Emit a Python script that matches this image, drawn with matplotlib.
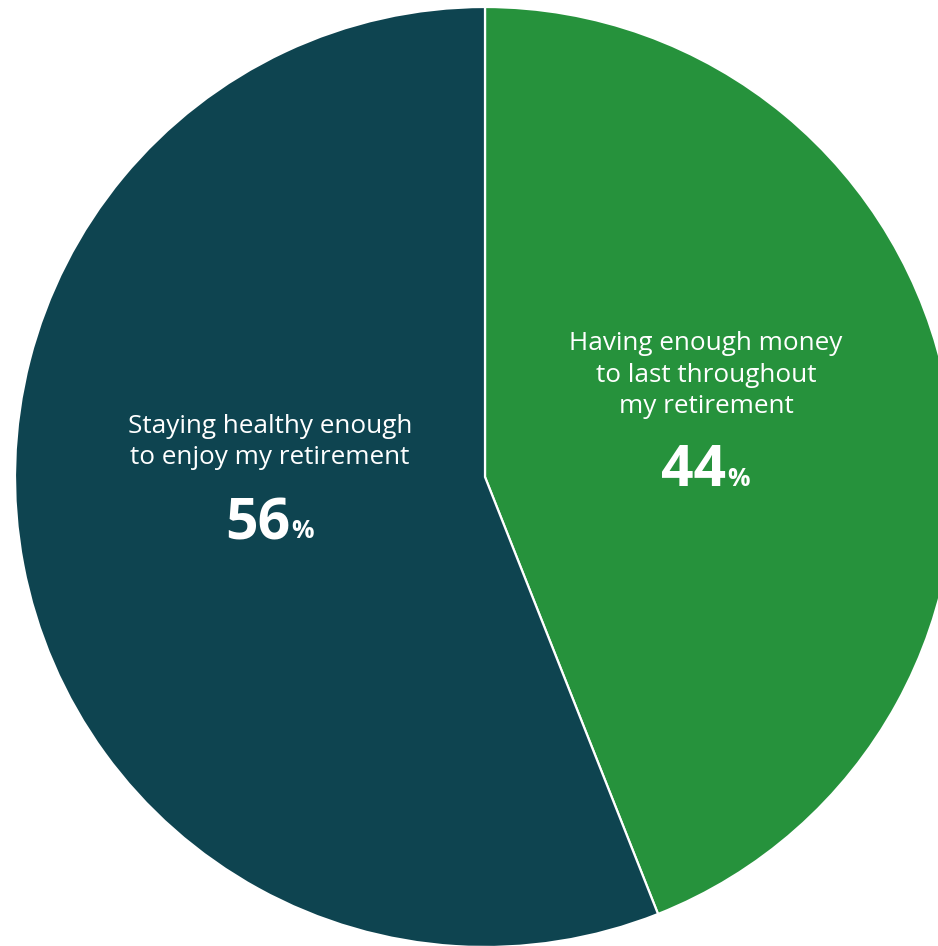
import matplotlib.pyplot as plt

# Survey shares: biggest retirement worry
labels = ["Having enough money\nto last throughout\nmy retirement",
          "Staying healthy enough\nto enjoy my retirement"]
shares = [44, 56]
colors = ["#26923c", "#0e4450"]

W, H = 938, 946
fig = plt.figure(figsize=(W / 100, H / 100), dpi=100)
ax = fig.add_axes([0, 0, 1, 1])

wedges, _ = ax.pie(shares, colors=colors, startangle=90, counterclock=False,
                   radius=470, center=(485, H - 477),
                   wedgeprops=dict(edgecolor="white", linewidth=1.6))
ax.set_xlim(0, W)
ax.set_ylim(0, H)
ax.set_aspect("equal")
ax.axis("off")

font = ["Open Sans", "DejaVu Sans"]
# label text, then big number + small percent sign
spots = [(706, 375, 471), (270, 442, 524)]
for lab, val, (x, ty, ny) in zip(labels, shares, spots):
    ax.text(x, H - ty, lab, ha="center", va="center", color="white",
            fontsize=18.8, family=font, linespacing=1.33)
    num = ax.text(x - 12, H - ny, str(val), ha="center", va="center",
                  color="white", fontsize=41, fontweight="bold", family=font)
    fig.canvas.draw()
    bb = num.get_window_extent()
    ax.text(bb.x1 + 1, H - ny - 8, "%", ha="left", va="center",
            color="white", fontsize=18, fontweight="bold", family=font)

fig.savefig("out.png", dpi=100)
